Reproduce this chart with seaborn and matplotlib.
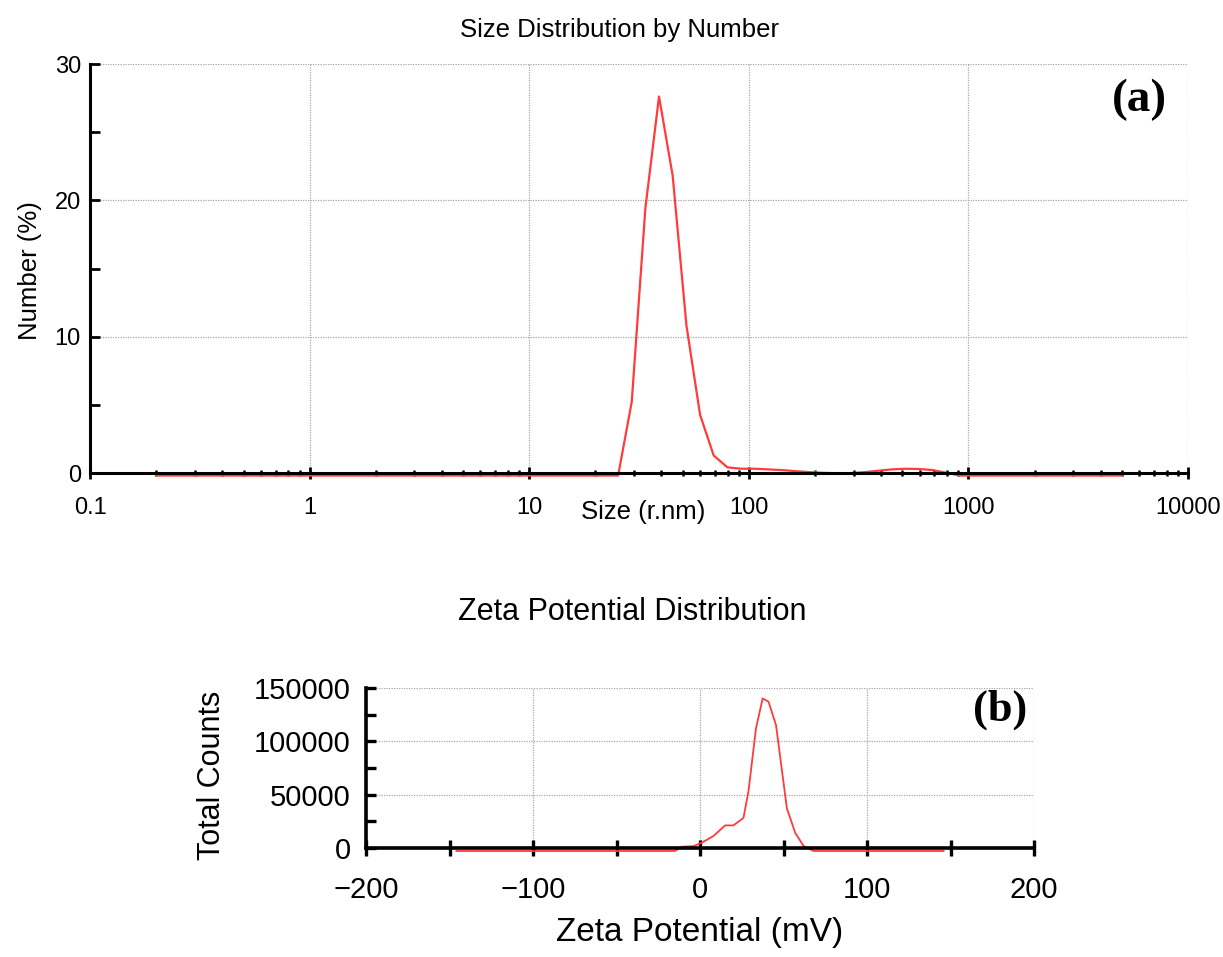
import matplotlib
matplotlib.use("Agg")
import matplotlib.pyplot as plt
import matplotlib.transforms as mtransforms
from matplotlib.ticker import LogLocator, MultipleLocator, FuncFormatter, NullFormatter
import seaborn as sns

# Size distribution by number (radius, nm) -> number (%)
size_nm = [0.2, 25.4, 29.3, 33.8, 39.0, 45.0, 52.0, 60.0, 69.2, 79.9,
           92.2, 106, 123, 142, 164, 189, 218, 252, 291, 336,
           388, 447, 516, 596, 688, 794, 916, 5000]
number_pct = [0, 0, 5.4, 19.6, 27.8, 22.0, 11.0, 4.45, 1.47, 0.6,
              0.5, 0.5, 0.45, 0.4, 0.32, 0.25, 0.2, 0.17, 0.18, 0.25,
              0.35, 0.45, 0.5, 0.48, 0.4, 0.2, 0, 0]

# Zeta potential distribution (mV) -> total counts
zeta_mv = [-146, -15, -11, -4, 1, 8, 15, 20, 26, 29, 33.5, 37.5, 41,
           45.5, 52, 57, 62, 68, 146]
total_counts = [0, 0, 4000, 4500, 7800, 14000, 24000, 24000, 31000, 56000,
                115000, 143000, 140000, 118000, 40000, 17000, 4700, 0, 0]

size_xticks = [0.1, 1, 10, 100, 1000, 10000]
zeta_xticks = [-200, -100, 0, 100, 200]
zeta_yticks = [0, 50000, 100000, 150000]

sns.set_style("white")
plt.rcParams["font.family"] = ["Liberation Sans", "DejaVu Sans"]
plt.rcParams["text.color"] = "black"
plt.rcParams["axes.labelcolor"] = "black"

RED = "#ff3b3b"
GRID = dict(color="#a8a8a8", linestyle=(0, (1, 1)), linewidth=0.9)

fig = plt.figure(figsize=(12.23, 9.57), dpi=100)
ax1 = fig.add_axes([0.0736, 0.5057, 0.8978, 0.4274])
ax2 = fig.add_axes([0.2993, 0.1139, 0.5462, 0.1672])


def style_axes(ax, spine_w):
    for s in ("top", "right"):
        ax.spines[s].set_visible(False)
    for s in ("left", "bottom"):
        ax.spines[s].set_color("black")
        ax.spines[s].set_linewidth(spine_w)
    ax.grid(True, which="major", **GRID)
    ax.set_axisbelow(True)
    ax.tick_params(which="both", bottom=True, left=True, top=False, right=False,
                   color="black", labelcolor="black")


def shift_line(ax, px_down):
    line = ax.get_lines()[-1]
    off = mtransforms.ScaledTranslation(0, -px_down / 100.0, fig.dpi_scale_trans)
    line.set_transform(ax.transData + off)
    line.set_clip_on(False)


# ---- (a) size distribution ----
ax1.set_xscale("log")
sns.lineplot(x=size_nm, y=number_pct, ax=ax1, color=RED, linewidth=1.6,
             sort=False, estimator=None)
shift_line(ax1, 2.5)
ax1.set_xlim(0.1, 10000)
ax1.set_ylim(0, 30)
style_axes(ax1, 2.2)
ax1.set_xticks(size_xticks)
ax1.xaxis.set_minor_locator(LogLocator(base=10, subs=range(2, 10), numticks=20))
ax1.xaxis.set_minor_formatter(NullFormatter())
ax1.xaxis.set_major_formatter(FuncFormatter(lambda v, p: f"{v:g}"))
ax1.yaxis.set_major_locator(MultipleLocator(10))
ax1.yaxis.set_minor_locator(MultipleLocator(5))
ax1.yaxis.set_major_formatter(FuncFormatter(lambda v, p: f"{int(v)}"))
ax1.tick_params(axis="x", which="major", direction="inout", length=8, width=2,
                labelsize=17, pad=13)
ax1.tick_params(axis="x", which="minor", direction="inout", length=5, width=1.8)
ax1.tick_params(axis="y", which="both", direction="in", length=7, width=2,
                labelsize=17, pad=6.5)
ax1.set_xlabel("Size (r.nm)", fontsize=18.5, va="center")
ax1.xaxis.set_label_coords(0.504, -0.095)
ax1.set_ylabel("Number (%)", fontsize=18.5, va="center")
ax1.yaxis.set_label_coords(-0.0546, 0.496)
ax1.text(0.956, 0.912, "(a)", transform=ax1.transAxes, ha="center", va="center",
         fontsize=34, fontweight="bold", family=["Liberation Serif", "DejaVu Serif"])
fig.text(620 / 1223, 1 - 30 / 957, "Size Distribution by Number",
         ha="center", va="center", fontsize=18.5)

# ---- (b) zeta potential ----
sns.lineplot(x=zeta_mv, y=total_counts, ax=ax2, color=RED, linewidth=1.3,
             sort=False, estimator=None)
shift_line(ax2, 3)
ax2.set_xlim(-200, 200)
ax2.set_ylim(0, 150000)
style_axes(ax2, 2.6)
ax2.set_xticks(zeta_xticks)
ax2.xaxis.set_minor_locator(MultipleLocator(50))
ax2.set_yticks(zeta_yticks)
ax2.yaxis.set_minor_locator(MultipleLocator(25000))
ax2.xaxis.set_major_formatter(FuncFormatter(lambda v, p: f"{int(v)}".replace("-", "\u2212")))
ax2.yaxis.set_major_formatter(FuncFormatter(lambda v, p: f"{int(v)}"))
ax2.tick_params(axis="x", which="major", direction="inout", length=12, width=2.4,
                labelsize=21, pad=14)
ax2.tick_params(axis="x", which="minor", direction="inout", length=11, width=2.4)
ax2.tick_params(axis="y", which="both", direction="in", length=7, width=2.4,
                labelsize=21, pad=11)
ax2.set_xlabel("Zeta Potential (mV)", fontsize=24, va="center")
ax2.xaxis.set_label_coords(0.5, -0.525)
ax2.set_ylabel("Total Counts", fontsize=22, va="center")
ax2.yaxis.set_label_coords(-0.2305, 0.456)
ax2.text(0.949, 0.8625, "(b)", transform=ax2.transAxes, ha="center", va="center",
         fontsize=32, fontweight="bold", family=["Liberation Serif", "DejaVu Serif"])
fig.text(632 / 1223, 1 - 612 / 957, "Zeta Potential Distribution",
         ha="center", va="center", fontsize=22)

fig.savefig("out.png", dpi=100, facecolor="white")
